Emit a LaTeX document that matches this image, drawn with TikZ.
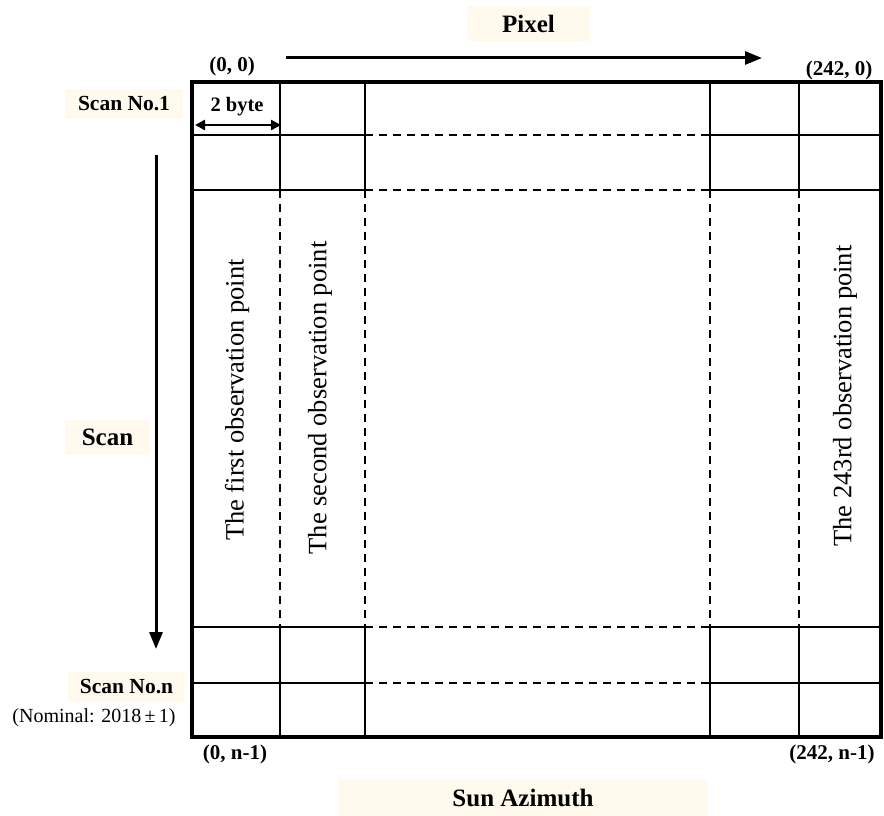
\documentclass[tikz,border=0pt]{standalone}
\usepackage{fontspec}
\setmainfont{Liberation Serif}
\usetikzlibrary{arrows.meta}
\definecolor{cream}{RGB}{255,249,238}
\tikzset{
  lbl/.style={font=\fontsize{21}{24}\selectfont\bfseries, inner sep=0pt},
  tag/.style={fill=cream, inner sep=0pt, font=\fontsize{21.5}{24}\selectfont\bfseries},
  bigtag/.style={tag, font=\fontsize{25}{28}\selectfont\bfseries},
  vtext/.style={rotate=90, font=\fontsize{26.5}{30}\selectfont, inner sep=0pt},
  grid/.style={line width=1.9pt},
  dgrid/.style={line width=1.6pt, dash pattern=on 8pt off 6pt},
  bigarrow/.style={line width=3pt, -{Triangle[length=17pt,width=13pt]}},
}
\begin{document}
\begin{tikzpicture}[x=1pt,y=-1pt]
\useasboundingbox (0,0) rectangle (884,816);
% grid coordinates
\def\L{192}\def\A{280}\def\B{365}\def\C{710}\def\D{799}\def\R{881}
\def\T{82}\def\P{135}\def\Q{190}\def\Rr{627}\def\S{683}\def\Bt{737}
% vertical lines
\foreach \x in {\A,\B,\C,\D}{
  \draw[grid] (\x,\T) -- (\x,\Q);
  \draw[dgrid] (\x,\Q) -- (\x,\Rr);
  \draw[grid] (\x,\Rr) -- (\x,\Bt);
}
% horizontal lines
\foreach \y in {\P,\Q,\Rr,\S}{
  \draw[grid] (\L,\y) -- (\B,\y);
  \draw[dgrid] (\B,\y) -- (\C,\y);
  \draw[grid] (\C,\y) -- (\R,\y);
}
% outer frame
\draw[line width=3.2pt] (\L,\T) rectangle (\R,\Bt);

% labels with cream background
\node[bigtag, minimum width=123pt, minimum height=35pt] (pixel) at (528.5,23.5) {Pixel};
\node[tag, minimum width=118pt, minimum height=30pt] (scan1) at (124,104) {Scan No.1};
\node[bigtag, minimum width=85pt, minimum height=35pt] (scan) at (107.5,437.5) {Scan};
\node[tag, minimum width=117pt, minimum height=30pt] (scann) at (126.5,687) {Scan No.n};
\node[bigtag, minimum width=370pt, minimum height=37pt] (sunaz) at (523,797.5) {Sun Azimuth};
\node[inner sep=0pt, font=\fontsize{20}{22}\selectfont] (nominal) at (94,718) {(Nominal: 2018\,±\,1)};

% corner coordinates
\node[lbl] (c00) at (232,66) {(0, 0)};
\node[lbl] (c2420) at (839,70) {(242, 0)};
\node[lbl] (c0n) at (235,754) {(0, n-1)};
\node[lbl] (c242n) at (832,754) {(242, n-1)};

% 2 byte
\node[lbl, font=\fontsize{20.5}{24}\selectfont\bfseries] (twobyte) at (237,107) {2 byte};
\coordinate (bl) at (195,125);
\coordinate (br) at (281,125);
\draw[line width=2.4pt, {Triangle[length=10pt,width=10pt]}-{Triangle[length=10pt,width=10pt]}] (bl) -- (br);

% direction arrows
\coordinate (pxs) at (286,58);
\coordinate (pxe) at (762,58);
\draw[bigarrow] (pxs) -- (pxe);
\coordinate (scs) at (156,155);
\coordinate (sce) at (156,649);
\draw[bigarrow] (scs) -- (sce);

% rotated texts
\node[vtext] (first) at (237,400) {The first observation point};
\node[vtext] (second) at (320,398) {The second observation point};
\node[vtext] (third) at (845,396) {The 243rd observation point};
\end{tikzpicture}
\end{document}
